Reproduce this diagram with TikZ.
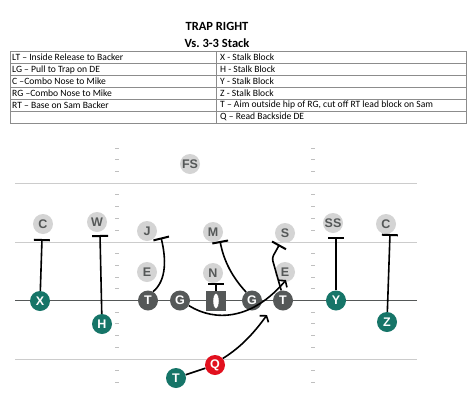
\documentclass[tikz,border=0pt]{standalone}
\usepackage{fontspec}
\setmainfont{Carlito}
\newfontfamily\playerfont{Liberation Sans}
\usetikzlibrary{arrows.meta,shapes.geometric}
\definecolor{offteal}{RGB}{22,117,104}
\definecolor{olgray}{RGB}{85,88,88}
\definecolor{defgray}{RGB}{212,212,212}
\definecolor{qbred}{RGB}{226,16,30}
\tikzset{
    player/.style={circle,minimum size=20pt,inner sep=0pt,font=\playerfont\bfseries\fontsize{12.5}{12.5}\selectfont},
    skill/.style={player,fill=offteal,text=white},
    lineman/.style={player,fill=olgray,text=white},
    qback/.style={player,fill=qbred,text=white},
    defender/.style={player,fill=defgray,text=olgray},
    snapper/.style={rectangle,fill=olgray,minimum size=20pt,inner sep=0pt},
    ballshape/.style={ellipse,fill=white,draw=olgray,line width=.4pt,minimum width=6pt,minimum height=15pt,inner sep=0pt},
    block/.style={line width=1.6pt,-{Bar[width=16pt,line width=2pt]}},
    run/.style={line width=1.6pt,-{Straight Barb[length=4pt,width=11pt,line width=1.6pt]}},
    yardline/.style={draw=black!20,line width=.8pt},
    losline/.style={draw=olgray,line width=1.2pt},
    hashmark/.style={draw=black!25,line width=.6pt},
    heading/.style={font=\bfseries\fontsize{12.5}{14}\selectfont},
    cell/.style={anchor=west,inner sep=0pt,font=\fontsize{9.6}{11}\selectfont},
    gridline/.style={draw=black!45,line width=.5pt}
}
\begin{document}
\begin{tikzpicture}[x=1pt,y=-1pt]
    \useasboundingbox[fill=white] (0,0) rectangle (474,410);

    % Title and assignment table
    \node[heading] (playname) at (217,26) {TRAP RIGHT};
    \node[heading] (frontname) at (217,43) {Vs.\ 3-3 Stack};
    \draw[gridline] (10,51.5) rectangle (466,123);
    \draw[gridline] (216.5,51.5) -- (216.5,123);
    \foreach \yy in {63.4,75.3,87.2,99.1,111} {
        \draw[gridline] (10,\yy) -- (466,\yy);
    }
    \node[cell] (lt) at (12,57.6) {LT -- Inside Release to Backer};
    \node[cell] (lg) at (12,69.5) {LG -- Pull to Trap on DE};
    \node[cell] (cc) at (12,81.4) {C --Combo Nose to Mike};
    \node[cell] (rg) at (12,93.3) {RG --Combo Nose to Mike};
    \node[cell] (rt) at (12,105.2) {RT -- Base on Sam Backer};
    \node[cell] (xx) at (220,57.6) {X - Stalk Block};
    \node[cell] (hh) at (220,69.5) {H - Stalk Block};
    \node[cell] (yy) at (220,81.4) {Y - Stalk Block};
    \node[cell] (zz) at (220,93.3) {Z - Stalk Block};
    \node[cell] (tt) at (220,105.2) {T -- Aim outside hip of RG, cut off RT lead block on Sam};
    \node[cell] (qq) at (220,117.1) {Q -- Read Backside DE};

    % Field
    \draw[yardline] (15,183) -- (417,183);
    \draw[yardline] (15,242) -- (417,242);
    \draw[yardline] (15,359) -- (417,359);
    \draw[losline] (15,300.5) -- (417,300.5);
    \foreach \k in {-3,-2,-1,1,2,3,4,6,7,8,9,11,12,13,14,16,17} {
        \draw[hashmark] (115,183+\k*11.73) -- (119,183+\k*11.73);
        \draw[hashmark] (311,183+\k*11.73) -- (315,183+\k*11.73);
    }

    % Defense
    \node[defender] (fs) at (190,164) {FS};
    \node[defender] (cbl) at (43,224) {C};
    \node[defender] (wil) at (97,222) {W};
    \node[defender] (jack) at (147,231) {J};
    \node[defender] (mike) at (213,232) {M};
    \node[defender] (sam) at (285,233) {S};
    \node[defender] (ss) at (333,223) {SS};
    \node[defender] (cbr) at (386,224) {C};
    \node[defender] (del) at (147,272) {E};
    \node[defender] (nose) at (213,273) {N};
    \node[defender] (der) at (285,272) {E};

    % Offense
    \node[skill] (xrec) at (40,301) {X};
    \node[skill] (hrec) at (102,324) {H};
    \node[lineman] (ltk) at (148,300.5) {T};
    \node[lineman] (lgd) at (180,300.5) {G};
    \node[snapper] (ctr) at (216,301) {};
    \node[ballshape] (ball) at (ctr) {};
    \node[lineman] (rgd) at (252,300.5) {G};
    \node[lineman] (rtk) at (283,300.5) {T};
    \node[skill] (yrec) at (336,300.5) {Y};
    \node[skill] (zrec) at (387,322) {Z};
    \node[qback] (qb) at (215,365) {Q};
    \node[skill] (tb) at (176,378) {T};

    % Blocks
    \coordinate (xblk) at (42,239);
    \coordinate (hblk) at (100,235);
    \coordinate (ltblk) at (161,237.5);
    \coordinate (rgblk) at (220,241);
    \coordinate (cblk) at (216,283);
    \coordinate (rtblk) at (279.5,244.5);
    \coordinate (yblk) at (336,237);
    \coordinate (zblk) at (390,234);
    \draw[block] (xrec) -- (xblk);
    \draw[block] (hrec) -- (hblk);
    \draw[block] (ltk.60) .. controls (167,280) and (166,258) .. (ltblk);
    \draw[block] (rgd.125) .. controls (233,278) and (224,262) .. (rgblk);
    \draw[block] (ctr) -- (cblk);
    \draw[block,rounded corners=3pt] (rtk.100) -- (272,258) -- (rtblk);
    \draw[block] (yrec) -- (yblk);
    \draw[block] (zrec) -- (zblk);

    % Trap and ball carrier
    \coordinate (trapend) at (286,280);
    \coordinate (hipend) at (267,315);
    \draw[run] (lgd.-30) .. controls (215,322) and (252,320) .. (trapend);
    \draw[line width=1.6pt] (tb) -- (qb);
    \draw[run] (qb.40) .. controls (243,346) and (256,330) .. (hipend);
\end{tikzpicture}
\end{document}
